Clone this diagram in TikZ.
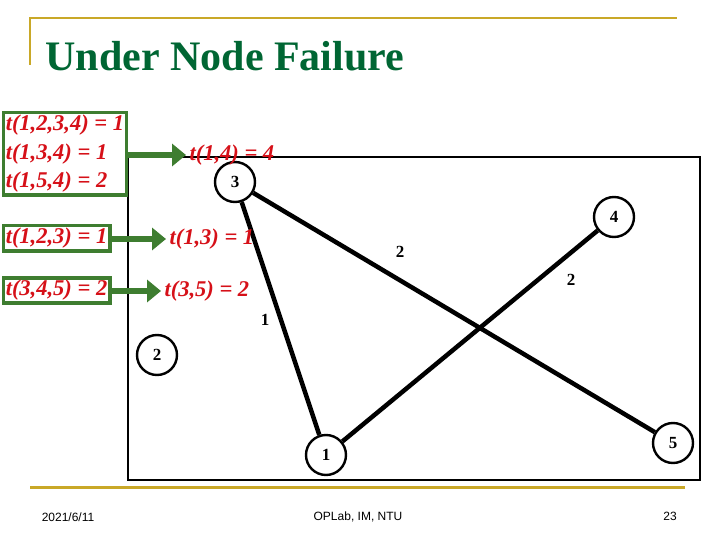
\documentclass[tikz,border=0pt]{standalone}
\usepackage{fontspec}
\setmainfont{Liberation Serif}
\newfontfamily\footfont{Liberation Sans}
\usetikzlibrary{arrows.meta}
\definecolor{gold}{RGB}{201,168,40}
\definecolor{titlegreen}{RGB}{0,102,51}
\definecolor{boxgreen}{RGB}{62,125,48}
\definecolor{costred}{RGB}{214,16,24}
\tikzset{
  vertex/.style={circle,draw,line width=2.4pt,minimum size=40pt,inner sep=0pt,font=\fontsize{17}{17}\selectfont\bfseries},
  link/.style={line width=4.5pt},
  cost/.style={font=\fontsize{17}{17}\selectfont\bfseries},
  tbox/.style={draw=boxgreen,line width=3.5pt,align=left,inner sep=2.5pt,text=costred,font=\fontsize{22.5}{28.5}\selectfont\bfseries\itshape},
  tres/.style={text=costred,font=\fontsize{22.5}{28}\selectfont\bfseries\itshape},
  push/.style={draw=boxgreen,line width=5.5pt,-{Triangle[length=14pt,width=22pt]}},
  foot/.style={font=\footfont\fontsize{12}{12}\selectfont}
}
\begin{document}
\begin{tikzpicture}[x=1pt,y=1pt,yscale=-1]
\useasboundingbox (0,0) rectangle (720,540);
% slide frame
\draw[gold,line width=2.5pt] (30,65) -- (30,18) -- (677,18);
\draw[gold,line width=3pt] (30,487) -- (685,487);
\node[text=titlegreen,font=\fontsize{42}{42}\selectfont\bfseries,anchor=west] (title) at (42,56) {Under Node Failure};
% graph panel
\draw[line width=1.5pt] (128,157) rectangle (700,480);
\node[vertex] (n3) at (235,182) {3};
\node[vertex] (n4) at (614,217) {4};
\node[vertex] (n2) at (157,355) {2};
\node[vertex] (n1) at (326,455) {1};
\node[vertex] (n5) at (673,443) {5};
\draw[link] (n3) -- (n1);
\draw[link] (n3) -- (n5);
\draw[link] (n1) -- (n4);
\node[cost] (c35) at (400,252) {2};
\node[cost] (c14) at (571,280) {2};
\node[cost] (c13) at (265,320) {1};
% path times
\node[tbox,fill=white,anchor=north west] (b1) at (1.5,111) {t(1,2,3,4) = 1\\t(1,3,4) = 1\\t(1,5,4) = 2};
\node[tbox,fill=white,anchor=north west] (b2) at (1.5,224) {t(1,2,3) = 1};
\node[tbox,fill=white,anchor=north west] (b3) at (1.5,276) {t(3,4,5) = 2};
\node[tres,anchor=west] (r1) at (186,155) {t(1,4) = 4};
\node[tres,anchor=west] (r2) at (166,239) {t(1,3) = 1};
\node[tres,anchor=west] (r3) at (161,291) {t(3,5) = 2};
\draw[push] (b1.east |- r1) -- (r1.west);
\draw[push] (b2.east |- r2) -- (r2.west);
\draw[push] (b3.east |- r3) -- (r3.west);
% footer
\node[foot] (date) at (68,517) {2021/6/11};
\node[foot] (lab) at (358,517) {OPLab, IM, NTU};
\node[foot] (page) at (670,516) {23};
\end{tikzpicture}
\end{document}
